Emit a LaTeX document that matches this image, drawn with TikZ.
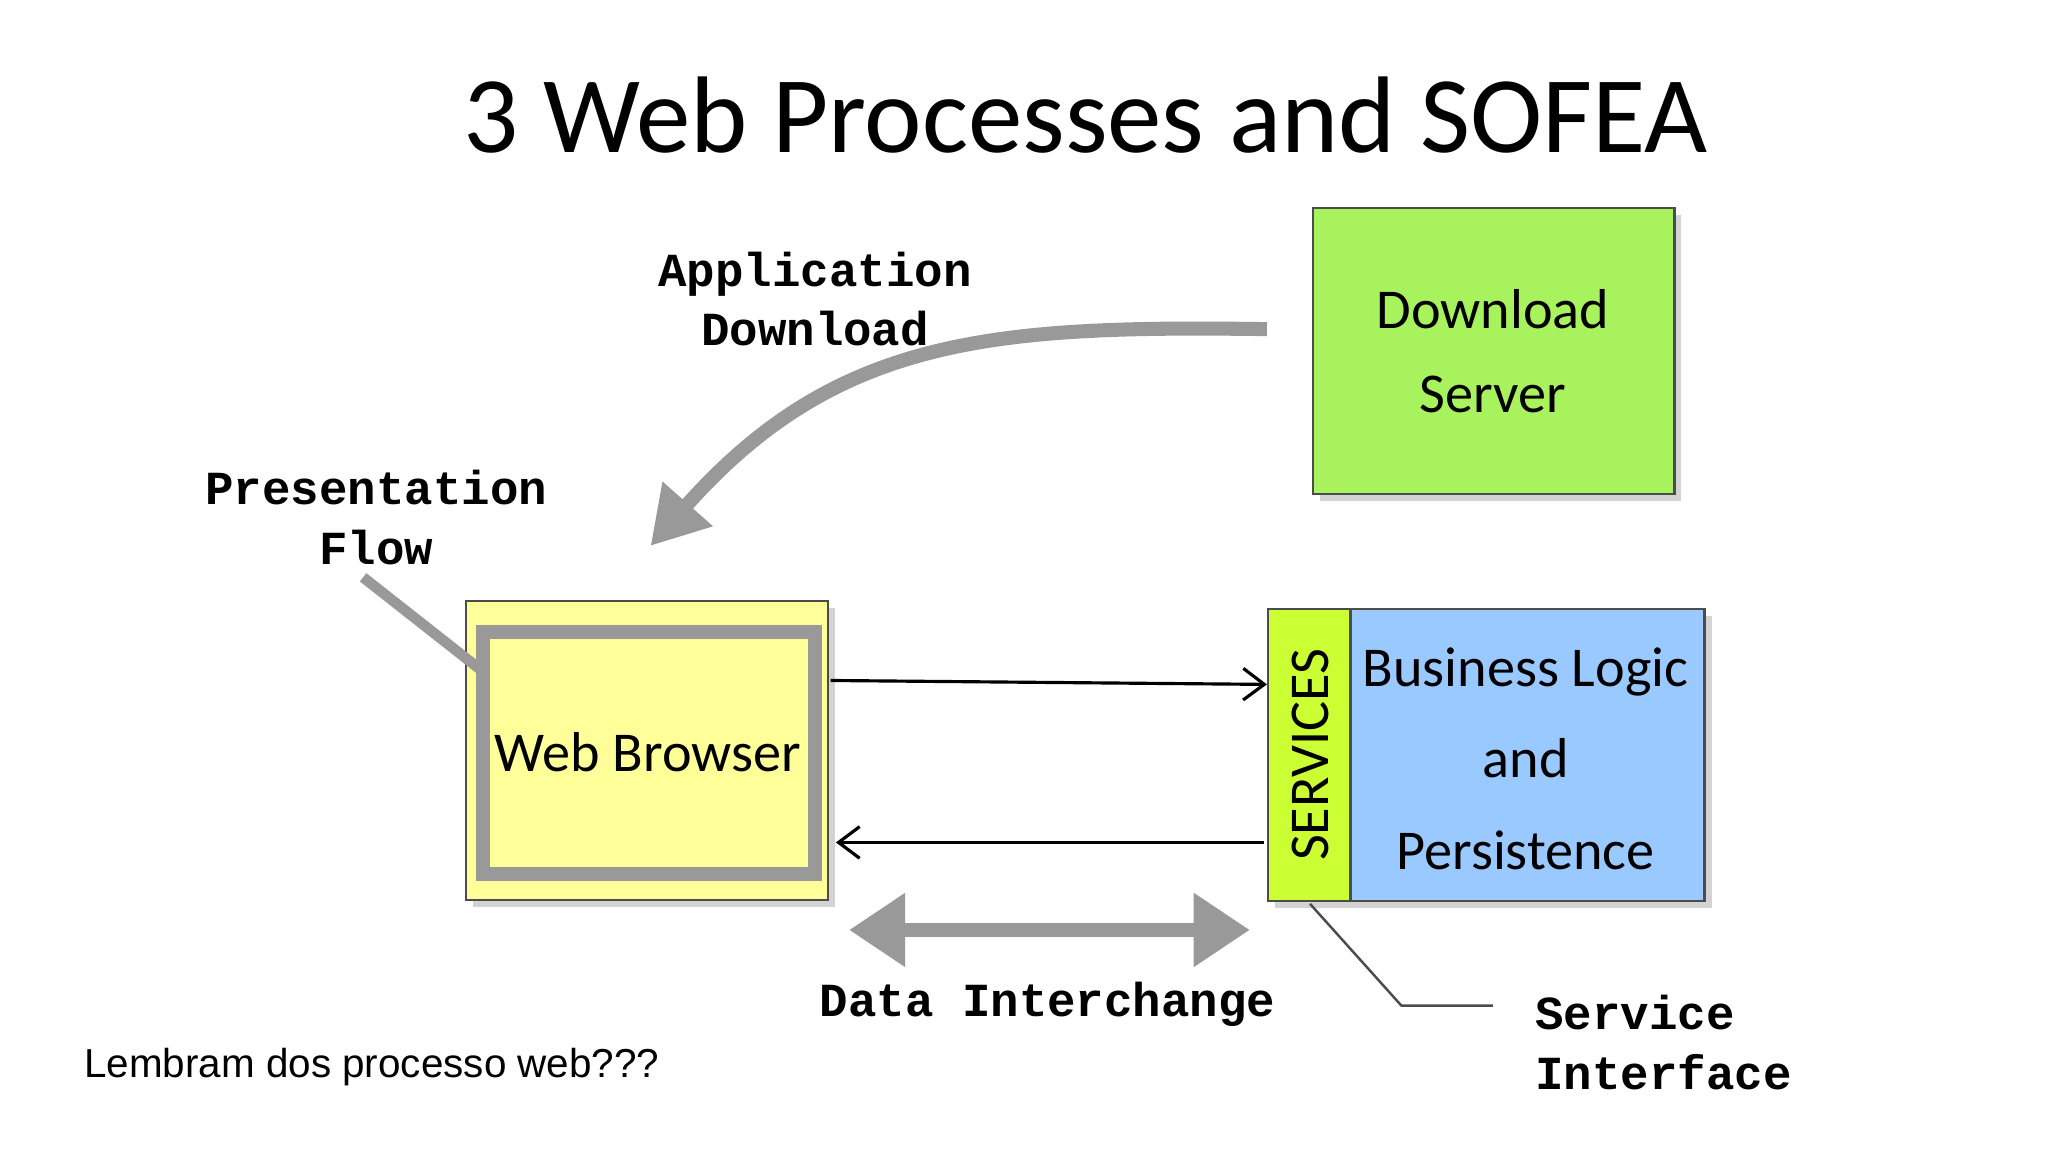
\documentclass[tikz,border=0pt]{standalone}
\usepackage{fontspec}
\setmainfont{Carlito}
\newfontfamily\monob{Liberation Mono}
\newfontfamily\arialf{Liberation Sans}
\usetikzlibrary{arrows.meta,shadows}
\definecolor{dlgreen}{HTML}{A8F25E}
\definecolor{wbyellow}{HTML}{FFFF99}
\definecolor{svcgreen}{HTML}{CCFF33}
\definecolor{blblue}{HTML}{99C9FF}
\definecolor{flowgray}{HTML}{999999}
\begin{document}
\begin{tikzpicture}[x=0.013061cm,y=-0.013061cm,
  box/.style={draw=black!70,line width=0.6pt,drop shadow={shadow xshift=2pt,shadow yshift=-2pt,opacity=0.35}},
  boxtext/.style={font=\fontsize{16}{24}\selectfont,align=center},
  mono/.style={font=\monob\bfseries\fontsize{13.5}{17}\selectfont,align=center},
  thin arrow/.style={-{Straight Barb[length=6pt,width=9pt]},line width=0.9pt},
  gray arrow/.style={flowgray,line width=4pt}]
\useasboundingbox (0,0) rectangle (1568,882);
\node[font=\fontsize{31}{36}\selectfont] (title) at (831,88) {3 Web Processes and SOFEA};
% boxes
\draw[box,fill=dlgreen] (1005,159) rectangle (1282,378);
\node[boxtext] (dl) at (1143,269) {Download\\Server};
\draw[box,fill=wbyellow] (357,460) rectangle (634,689);
\draw[flowgray,line width=4pt] (370,484) rectangle (624,669);
\node[boxtext] (wb) at (496,576) {Web Browser};
\draw[box,fill=blblue] (971,466) rectangle (1305,690);
\draw[draw=black!70,line width=0.6pt,fill=svcgreen] (971,466) rectangle (1034,690);
\node[boxtext,rotate=90] (svc) at (1003,578) {SERVICES};
\node[boxtext,font=\fontsize{16}{26}\selectfont] (bl) at (1168,581) {Business Logic\\and\\Persistence};
% connectors
\coordinate (wbR1) at (636,521); \coordinate (svL1) at (970,524);
\coordinate (svL2) at (968,645); \coordinate (wbR2) at (640,645);
\draw[thin arrow] (wbR1) -- (svL1);
\draw[thin arrow] (svL2) -- (wbR2);
\coordinate (diL) at (650,712); \coordinate (diR) at (957,712);
\draw[gray arrow,{Triangle[length=16pt,width=20pt]}-{Triangle[length=16pt,width=20pt]}] (diL) -- (diR);
\coordinate (adS) at (970,252); \coordinate (adE) at (498,418);
\draw[gray arrow,-{Triangle[length=16pt,width=18pt]}] (adS) .. controls (760,249) and (640,258) .. (adE);
\coordinate (pfA) at (278,442); \coordinate (pfB) at (367,512);
\draw[flowgray,line width=3pt] (pfA) -- (pfB);
\coordinate (siA) at (1003,692); \coordinate (siB) at (1073,770); \coordinate (siC) at (1143,770);
\draw[black!70,line width=0.7pt] (siA) -- (siB) -- (siC);
% labels
\node[mono] (appdl) at (624,229) {Application\\Download};
\node[mono] (pres) at (288,396) {Presentation\\Flow};
\node[mono] (data) at (802,769) {Data Interchange};
\node[mono,align=left,anchor=west] (sif) at (1166,798) {Service\\Interface};
\node[font=\arialf\fontsize{11.5}{14}\selectfont,anchor=west] (note) at (55,817) {Lembram dos processo web???};
\end{tikzpicture}
\end{document}
